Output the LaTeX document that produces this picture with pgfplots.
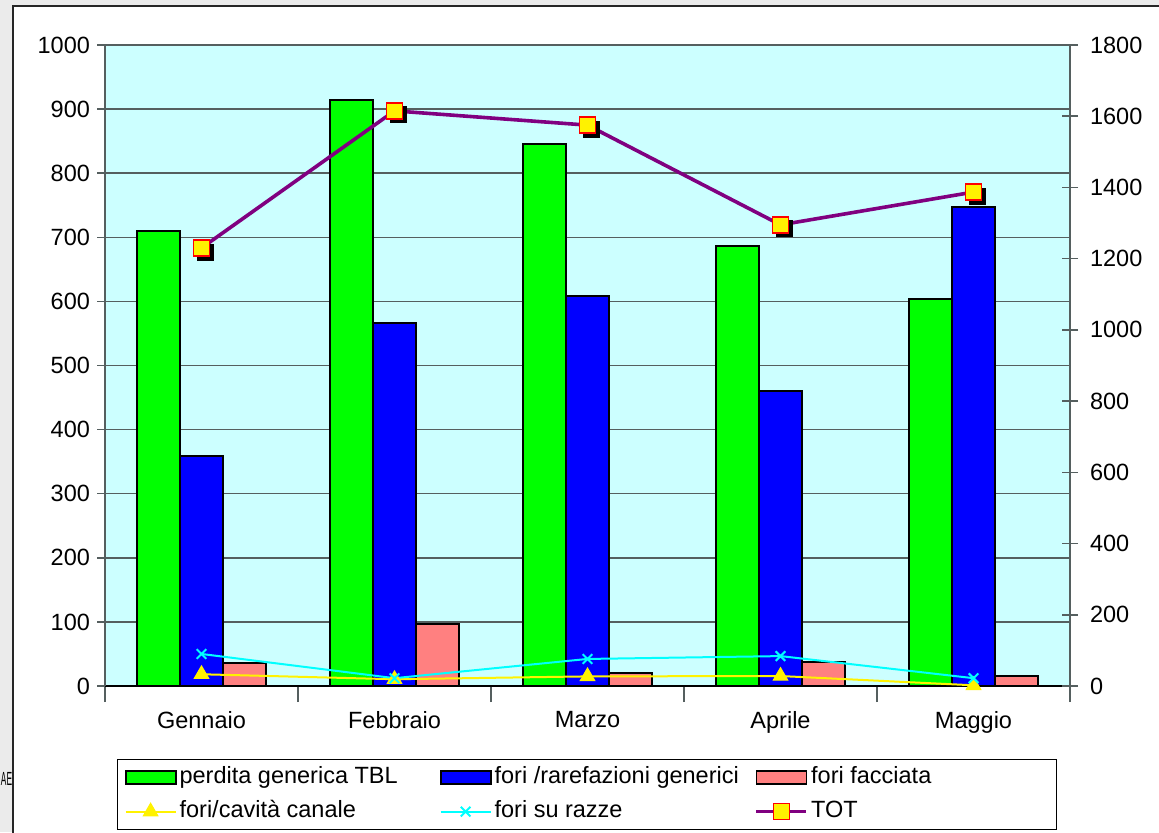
\documentclass[border=0pt]{standalone}
\usepackage{fontspec}
\setmainfont{Liberation Sans}
\usepackage{pgfplots}
\pgfplotsset{compat=1.18}
\definecolor{bgc}{RGB}{204,255,255}
\definecolor{gridc}{RGB}{85,95,95}
\definecolor{salmon}{RGB}{255,128,128}
\definecolor{purp}{RGB}{128,0,128}
\definecolor{cyanc}{RGB}{0,255,255}
\definecolor{outerc}{RGB}{235,235,235}
\pgfplotsset{
  barleg/.style={legend image code/.code={\draw[##1, line width=0.9pt] (0pt,-3.25pt) rectangle (25pt,3.25pt);}},
  lineleg/.style={legend image code/.code={\draw[mark repeat=2,mark phase=2,##1] plot coordinates {(0pt,0pt)(12.5pt,0pt)(25pt,0pt)};}},
}
\begin{document}
\begin{tikzpicture}[font=\fontsize{11.75}{14}\selectfont]
\useasboundingbox (0,0) rectangle (579.5pt,416pt);
\fill[outerc] (0,0) rectangle (579.5pt,416pt);
\node[anchor=base west, inner sep=0pt, font=\fontsize{9.5}{10}\selectfont] at (0.3pt,23.5pt) {\scalebox{0.44}[1]{AE}};
\filldraw[fill=white, draw=black!85, line width=1pt] (6.5pt,-5pt) rectangle (590pt,413pt);

\begin{axis}[
  at={(52.5pt,73pt)}, anchor=south west,
  scale only axis, width=482.5pt, height=320.5pt,
  xmin=-0.5, xmax=4.5, ymin=0, ymax=1000,
  axis background/.style={fill=bgc},
  axis x line*=bottom, axis y line*=left,
  x axis line style={black, line width=1pt},
  y axis line style={gridc, line width=0.75pt},
  ytick={0,100,...,1000},
  ymajorgrids, grid style={gridc, line width=0.75pt},
  xtick={-0.5,0.5,...,4.5}, xticklabels={},
  extra x ticks={0,1,2,3,4},
  extra x tick labels={Gennaio,Febbraio,Marzo,Aprile,Maggio},
  extra x tick style={major tick length=0pt, grid=none, xticklabel style={yshift=-9pt}},
  tick align=center, major tick length=8pt,
  tick style={gridc, line width=0.75pt},
  /pgf/number format/assume math mode=true,
  /pgf/number format/1000 sep={},
  ybar=0pt, bar width=0.2228,
]
\addplot[fill=green, draw=black, line width=1pt] coordinates {(0,710) (1,914) (2,845) (3,686) (4,604)};
\addplot[fill=blue, draw=black, line width=1pt] coordinates {(0,359) (1,566) (2,608) (3,460) (4,747)};
\addplot[fill=salmon, draw=black, line width=1pt] coordinates {(0,36) (1,97) (2,21) (3,38) (4,15)};
\end{axis}

\begin{axis}[
  at={(52.5pt,73pt)}, anchor=south west,
  scale only axis, width=482.5pt, height=320.5pt,
  xmin=-0.5, xmax=4.5, ymin=0, ymax=1800,
  axis x line=none, axis y line*=right,
  y axis line style={gridc, line width=0.75pt},
  ytick={0,200,...,1800},
  yticklabel style={xshift=2.5pt},
  tick align=center, major tick length=8pt,
  tick style={gridc, line width=0.75pt},
  /pgf/number format/assume math mode=true,
  /pgf/number format/1000 sep={},
  clip=false,
  legend columns=3,
  legend cell align=left,
  legend style={at={(0.01244,-0.1139)}, anchor=north west, draw=black, line width=0.6pt,
    fill=white, inner xsep=3.5pt, inner ysep=0.5pt, column sep=0pt, row sep=0pt,
    nodes={inner xsep=1.5pt, inner ysep=3pt, text height=8.5pt, text depth=2.5pt},
    font=\fontsize{11.75}{14}\selectfont},
]
\addlegendimage{barleg, fill=green, draw=black}
\addlegendentry{\makebox[128.5pt][l]{perdita generica TBL}}
\addlegendimage{barleg, fill=blue, draw=black}
\addlegendentry{\makebox[128.5pt][l]{fori /rarefazioni generici}}
\addlegendimage{barleg, fill=salmon, draw=black}
\addlegendentry{\makebox[117.5pt][l]{fori facciata}}

\addplot[lineleg, yellow, line width=1pt, mark=triangle*, mark size=4.2pt, mark options={fill=yellow, draw=yellow, line width=0.5pt}]
  coordinates {(0,33) (1,19) (2,27) (3,28) (4,2)};
\addlegendentry{\makebox[128.5pt][l]{fori/cavità canale}}
\addplot[lineleg, cyanc, line width=1pt, mark=x, mark size=3.4pt, mark options={draw=cyanc, line width=1pt}]
  coordinates {(0,90) (1,22) (2,76) (3,84) (4,22)};
\addlegendentry{\makebox[128.5pt][l]{fori su razze}}
\addplot[forget plot, only marks, mark=square*, mark size=4pt, mark options={fill=black, draw=black}, xshift=2pt, yshift=-2pt]
  coordinates {(0,1230) (1,1615) (2,1575) (3,1295) (4,1387)};
\addplot[lineleg, purp, line width=1.8pt, mark=square*, mark size=4pt, mark options={fill=yellow, draw=red, line width=0.75pt}]
  coordinates {(0,1230) (1,1615) (2,1575) (3,1295) (4,1387)};
\addlegendentry{\makebox[117.5pt][l]{TOT}}
\end{axis}
\end{tikzpicture}
\end{document}
